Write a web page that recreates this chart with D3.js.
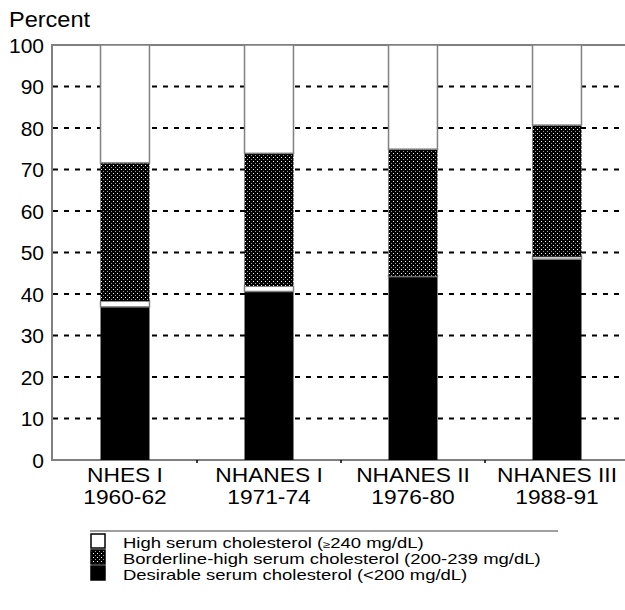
<!DOCTYPE html>
<html><head><meta charset="utf-8">
<script src="https://cdn.jsdelivr.net/npm/d3@7"></script>
<style>body{margin:0;background:#fff}svg{display:block;font-family:"Liberation Sans",Arial,sans-serif}</style>
</head><body><div id="c"></div>
<script>
const categories = ["NHES I", "NHANES I", "NHANES II", "NHANES III"];
const years = ["1960-62", "1971-74", "1976-80", "1988-91"];
const desirable = [36.9, 40.6, 44.2, 48.4];
const gap = [1.4, 1.3, 0.1, 0.6];
const borderline = [33.3, 32.0, 30.6, 31.7];
const high = [28.4, 26.1, 25.1, 19.3];
const yTicks = [0, 10, 20, 30, 40, 50, 60, 70, 80, 90, 100];
const legendLabels = [
  ["High serum cholesterol (", "\u2265", "240 mg/dL)"],
  ["Borderline-high serum cholesterol (200-239 mg/dL)"],
  ["Desirable serum cholesterol (<200 mg/dL)"]
];

const W = 625, H = 610;
const svg = d3.select("#c").append("svg").attr("width", W).attr("height", H);
const defs = svg.append("defs");
const pat = defs.append("pattern").attr("id", "dots").attr("patternUnits", "userSpaceOnUse")
  .attr("width", 4).attr("height", 4);
pat.append("rect").attr("width", 4).attr("height", 4).attr("fill", "#000");
pat.append("rect").attr("x", 1).attr("y", 1).attr("width", 1).attr("height", 1).attr("fill", "#fff");
pat.append("rect").attr("x", 3).attr("y", 3).attr("width", 1).attr("height", 1).attr("fill", "#a0a0a0");

const x = d3.scaleBand().domain(categories).range([53, 629]).paddingInner(0.66).paddingOuter(0.33);
const xb = d3.scaleBand().domain(categories).range([53, 629]).padding(0);
const y = d3.scaleLinear().domain([0, 100]).range([460, 45]);

const grey = "#808080";

// gridlines
svg.append("g").selectAll("line").data(yTicks.filter(t => t > 0 && t < 100)).join("line")
  .attr("x1", 53).attr("x2", W).attr("y1", d => y(d)).attr("y2", d => y(d))
  .attr("stroke", "#000").attr("stroke-width", 2).attr("stroke-dasharray", "5,6");

// frame
svg.append("line").attr("x1", 52).attr("x2", W).attr("y1", y(100)).attr("y2", y(100)).attr("stroke", grey).attr("stroke-width", 2);
svg.append("line").attr("x1", 52).attr("x2", W).attr("y1", y(0)).attr("y2", y(0)).attr("stroke", grey).attr("stroke-width", 2);
svg.append("line").attr("x1", 52).attr("x2", 52).attr("y1", y(0) + 1).attr("y2", y(100) - 1).attr("stroke", grey).attr("stroke-width", 2);

// stacked bars
const rows = categories.map((c, i) => ({cat: c, desirable: desirable[i], gap: gap[i], borderline: borderline[i], high: high[i]}));
const keys = ["desirable", "gap", "borderline", "high"];
const stack = d3.stack().keys(keys)(rows);
const styles = {
  desirable: {fill: "#000", stroke: "none"},
  gap: {fill: "#fff", stroke: grey},
  borderline: {fill: "url(#dots)", stroke: "none"},
  high: {fill: "#fff", stroke: grey}
};
stack.forEach(layer => {
  const st = styles[layer.key];
  svg.append("g").selectAll("rect").data(layer).join("rect")
    .attr("x", d => x(d.data.cat))
    .attr("width", x.bandwidth())
    .attr("y", d => y(d[1]))
    .attr("height", d => Math.max(0, y(d[0]) - y(d[1])))
    .attr("fill", st.fill).attr("stroke", st.stroke).attr("stroke-width", 1.5);
});

// y tick labels
svg.append("g").selectAll("text").data(yTicks).join("text")
  .attr("x", 44).attr("y", d => y(d)).attr("dy", "0.36em").attr("text-anchor", "end")
  .attr("font-size", 21).text(d => d);
svg.append("text").attr("transform", "translate(9,27) scale(1.07,1)").attr("font-size", 22).text("Percent");

// x boundary ticks
svg.append("g").selectAll("line").data(categories.slice(1)).join("line")
  .attr("x1", d => xb(d)).attr("x2", d => xb(d)).attr("y1", y(0)).attr("y2", y(0) + 3)
  .attr("stroke", "#000").attr("stroke-width", 1.5);

// x labels (one text, two lines)
const xl = svg.append("g").selectAll("text").data(categories).join("text")
  .attr("transform", d => `translate(${x(d) + x.bandwidth() / 2},482) scale(1.11,1)`)
  .attr("text-anchor", "middle").attr("font-size", 20.5);
xl.append("tspan").attr("x", 0).attr("y", 0).text(d => d);
xl.append("tspan").attr("x", 0).attr("y", 22).text((d, i) => years[i]);

// legend
const lg = svg.append("g");
lg.append("line").attr("x1", 90).attr("x2", 558).attr("y1", 531).attr("y2", 531).attr("stroke", grey).attr("stroke-width", 1.5);
const swFills = ["#fff", "url(#dots)", "#000"];
legendLabels.forEach((parts, i) => {
  lg.append("rect").attr("x", 91).attr("y", 534 + i * 16).attr("width", 14).attr("height", 14)
    .attr("fill", swFills[i]).attr("stroke", "#000").attr("stroke-width", 1.5);
});
const lt = lg.append("text").attr("transform", "translate(123,548) scale(1.32,1)").attr("font-size", 14);
legendLabels.forEach((parts, i) => {
  const line = lt.append("tspan").attr("x", 0).attr("y", i * 16);
  if (parts.length === 1) line.text(parts[0]);
  else {
    line.append("tspan").text(parts[0]);
    line.append("tspan").attr("font-size", 10).text(parts[1]);
    line.append("tspan").text(parts[2]);
  }
});
</script></body></html>
